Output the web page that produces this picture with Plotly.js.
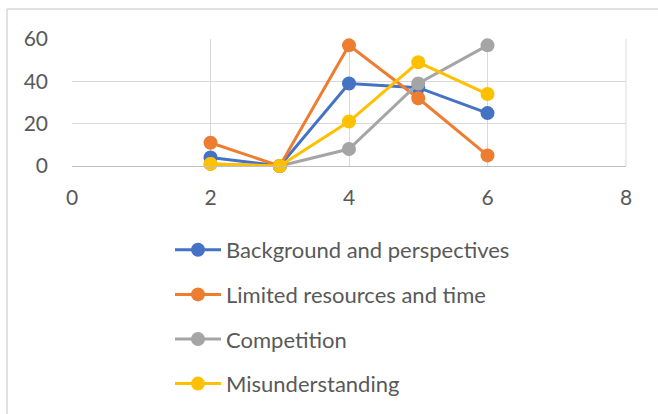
<!DOCTYPE html>
<html>
<head>
<meta charset="utf-8">
<script src="https://cdn.plot.ly/plotly-3.0.1.min.js"></script>
<style>
html,body{margin:0;padding:0;background:#fff;}
#chart{width:658px;height:414px;}
</style>
</head>
<body>
<div id="chart"></div>
<script>
const xValues = [2, 3, 4, 5, 6];
const seriesNames = ["Background and perspectives", "Limited resources and time", "Competition", "Misunderstanding"];
const background = [4, 0, 39, 37, 25];
const limited = [11, 0, 57, 32, 5];
const competition = [1, 0, 8, 39, 57];
const misunderstanding = [1, 0, 21, 49, 34];
const xTicks = [0, 2, 4, 6, 8];
const yTicks = [0, 20, 40, 60];

const colors = ["#4472C4", "#ED7D31", "#A5A5A5", "#FFC000"];
const allY = [background, limited, competition, misunderstanding];

const W = 658, H = 414;
const L = 72, R = 32, T = 39, B = 248;
const pw = W - L - R, ph = H - T - B;
function px(x){ return (x - L) / pw; }
function py(y){ return (H - B - y) / ph; }

const traces = allY.map((ys, i) => ({
  type: 'scatter',
  mode: 'lines+markers',
  x: xValues,
  y: ys,
  name: seriesNames[i],
  legendgroup: 'g' + i,
  line: {color: colors[i], width: 3},
  marker: {color: colors[i], size: 14},
  cliponaxis: false
}));

const layout = {
  width: W, height: H,
  margin: {l: L, r: R, t: T, b: B, autoexpand: false},
  paper_bgcolor: '#fff',
  plot_bgcolor: '#fff',
  font: {family: 'Lato, "Open Sans", sans-serif', size: 21, color: '#595959'},
  showlegend: true,
  xaxis: {
    range: [0, 8],
    tickvals: xTicks,
    showgrid: true,
    gridcolor: '#D9D9D9',
    gridwidth: 1,
    zeroline: false,
    showline: true,
    linecolor: '#BFBFBF',
    linewidth: 1,
    ticks: '',
    ticklabelstandoff: 13,
    tickfont: {size: 21, color: '#595959'},
    fixedrange: true
  },
  yaxis: {
    range: [0, 60],
    tickvals: yTicks,
    showgrid: true,
    gridcolor: '#D9D9D9',
    gridwidth: 1,
    zeroline: false,
    showline: false,
    ticks: '',
    ticklabelstandoff: 23,
    tickfont: {size: 21, color: '#595959'},
    fixedrange: true
  },
  legend: {
    orientation: 'v',
    x: px(170), xanchor: 'left',
    y: py(229), yanchor: 'top',
    itemwidth: 46,
    tracegroupgap: 13,
    font: {size: 22, color: '#595959'},
    bgcolor: 'rgba(0,0,0,0)'
  },
  shapes: [
    {type: 'line', xref: 'paper', yref: 'paper', x0: px(7), x1: px(700), y0: py(9), y1: py(9), line: {color: '#D9D9D9', width: 1.5}},
    {type: 'line', xref: 'paper', yref: 'paper', x0: px(7), x1: px(7), y0: py(9), y1: py(420), line: {color: '#D9D9D9', width: 1.5}},
    {type: 'line', xref: 'paper', yref: 'paper', x0: 1, x1: 1, y0: 0, y1: 1, line: {color: '#D9D9D9', width: 1}}
  ]
};

Plotly.newPlot('chart', traces, layout, {displayModeBar: false, staticPlot: true});
</script>
</body>
</html>
